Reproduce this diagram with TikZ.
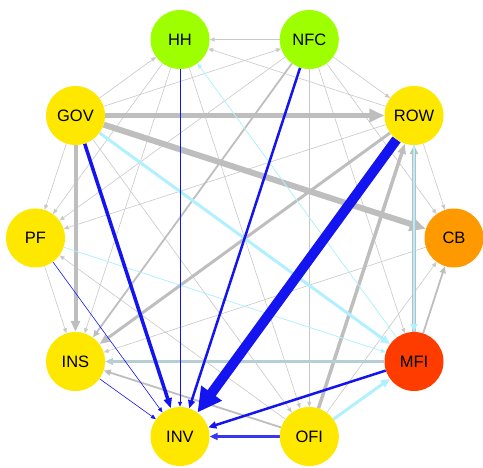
\documentclass[tikz,border=0pt]{standalone}
\usepackage{fontspec}
\setmainfont{Liberation Sans}
\usetikzlibrary{arrows.meta,backgrounds}
\definecolor{limefill}{RGB}{158,255,0}
\definecolor{yelfill}{RGB}{255,232,0}
\definecolor{orangefill}{RGB}{255,153,0}
\definecolor{redfill}{RGB}{255,60,0}
\definecolor{egray}{RGB}{190,190,190}
\definecolor{lgray}{RGB}{200,200,200}
\definecolor{eblue}{RGB}{20,20,240}
\definecolor{ecyan}{RGB}{176,240,255}
\definecolor{egblue}{RGB}{184,206,214}
\begin{document}
\begin{tikzpicture}[x=1pt,y=-1pt,
  sector/.style={circle,minimum size=59pt,inner sep=0pt,
    font=\fontsize{16.5}{18}\selectfont},
  gline/.style={draw=lgray,line width=0.6pt,-{Triangle[length=5pt,width=4pt]}},
  mline/.style={draw=egray,line width=1.8pt,-{Triangle[length=7pt,width=6pt]}},
  bline/.style={draw=eblue,line width=0.6pt,-{Triangle[length=5pt,width=4pt]}},
  cline/.style={draw=ecyan,line width=0.8pt,-{Triangle[length=5pt,width=4pt]}}]
\useasboundingbox (0,0) rectangle (483,468);

% sectors on a decagon
\node[sector,fill=limefill]   (HH)  at (180,39.5)  {HH};
\node[sector,fill=limefill]   (NFC) at (309.3,39.5) {NFC};
\node[sector,fill=yelfill]    (GOV) at (75.5,115.5) {GOV};
\node[sector,fill=yelfill]    (ROW) at (414,115.5) {ROW};
\node[sector,fill=yelfill]    (PF)  at (35.5,238)  {PF};
\node[sector,fill=orangefill] (CB)  at (454,238)   {CB};
\node[sector,fill=yelfill]    (INS) at (75.5,361.5) {INS};
\node[sector,fill=redfill]    (MFI) at (414,361.5) {MFI};
\node[sector,fill=yelfill]    (INV) at (180,436.5) {INV};
\node[sector,fill=yelfill]    (OFI) at (309.3,436.5) {OFI};

\begin{scope}[on background layer]
% light exposures
\draw[gline] (NFC) -- (HH);
\draw[gline] (GOV) -- (HH);
\draw[gline] (ROW) -- (HH);
\draw[gline] (GOV) -- (NFC);
\draw[gline] (NFC) -- (ROW);
\draw[gline] (NFC) -- (OFI);
\draw[gline] (NFC) -- (CB);
\draw[gline] (NFC) -- (MFI);
\draw[gline] (NFC) -- (PF);
\draw[gline] (HH) -- (PF);
\draw[gline] (HH) -- (INS);
\draw[gline] (HH) -- (OFI);
\draw[gline] (GOV) -- (PF);
\draw[gline] (GOV) -- (OFI);
\draw[gline] (ROW) -- (PF);
\draw[gline] (ROW) -- (CB);
\draw[gline] (OFI) -- (PF);
\draw[gline] (PF) -- (INS);
\draw[gline] (CB) -- (INS);
\draw[gline] (OFI) -- (CB);
% medium exposures
\draw[mline] (NFC) -- (INS);
\draw[mline] (OFI) -- (INS);
\draw[mline] (MFI) -- (CB);
% heavy grey exposures
\draw[draw=egray,line width=5pt,-{Triangle[length=15pt,width=13pt]}] (GOV) -- (ROW);
\draw[draw=egray,line width=6pt,-{Triangle[length=16pt,width=14pt]}] (GOV) -- (CB);
\draw[draw=egray,line width=4pt,-{Triangle[length=11pt,width=9pt]}] (GOV) -- (INS);
\draw[draw=egray,line width=3.5pt,-{Triangle[length=10pt,width=8pt]}] (OFI) -- (ROW);
\draw[draw=egray,line width=3pt,-{Triangle[length=10pt,width=8pt]}] (ROW) -- (INS);
\draw[draw=egray,line width=3.5pt,-{Triangle[length=9pt,width=8pt]}] (MFI) -- (ROW);
\draw[draw=egblue,line width=3pt,-{Triangle[length=8pt,width=7pt]}] (MFI) -- (INS);
% cyan exposures
\draw[draw=ecyan,line width=2pt,-{Triangle[length=8pt,width=7pt]}] (ROW) -- (MFI);
\draw[draw=ecyan,line width=3pt,-{Triangle[length=9pt,width=8pt]}] (GOV) -- (MFI);
\draw[draw=ecyan,line width=3pt,-{Triangle[length=9pt,width=8pt]}] (OFI) -- (MFI);
\draw[cline] (MFI) -- (HH);
\draw[cline] (PF) -- (MFI);
% blue exposures into INV
\draw[bline,line width=0.8pt] (HH) -- (INV);
\draw[bline] (PF) -- (INV);
\draw[bline] (INS) -- (INV);
\draw[draw=eblue,line width=3.5pt,-{Triangle[length=10pt,width=8pt]}] (GOV) -- (INV);
\draw[draw=eblue,line width=2.5pt,-{Triangle[length=8pt,width=7pt]}] (NFC) -- (INV);
\draw[draw=eblue,line width=2.5pt,-{Triangle[length=8pt,width=7pt]}] (MFI) -- (INV);
\draw[draw=eblue!85!white,line width=2.5pt,-{Triangle[length=8pt,width=7pt]}] (OFI) -- (INV);
\draw[draw=eblue,line width=10pt,-{Triangle[length=24pt,width=24pt]}] (ROW) -- (INV);
\end{scope}
\end{tikzpicture}
\end{document}
